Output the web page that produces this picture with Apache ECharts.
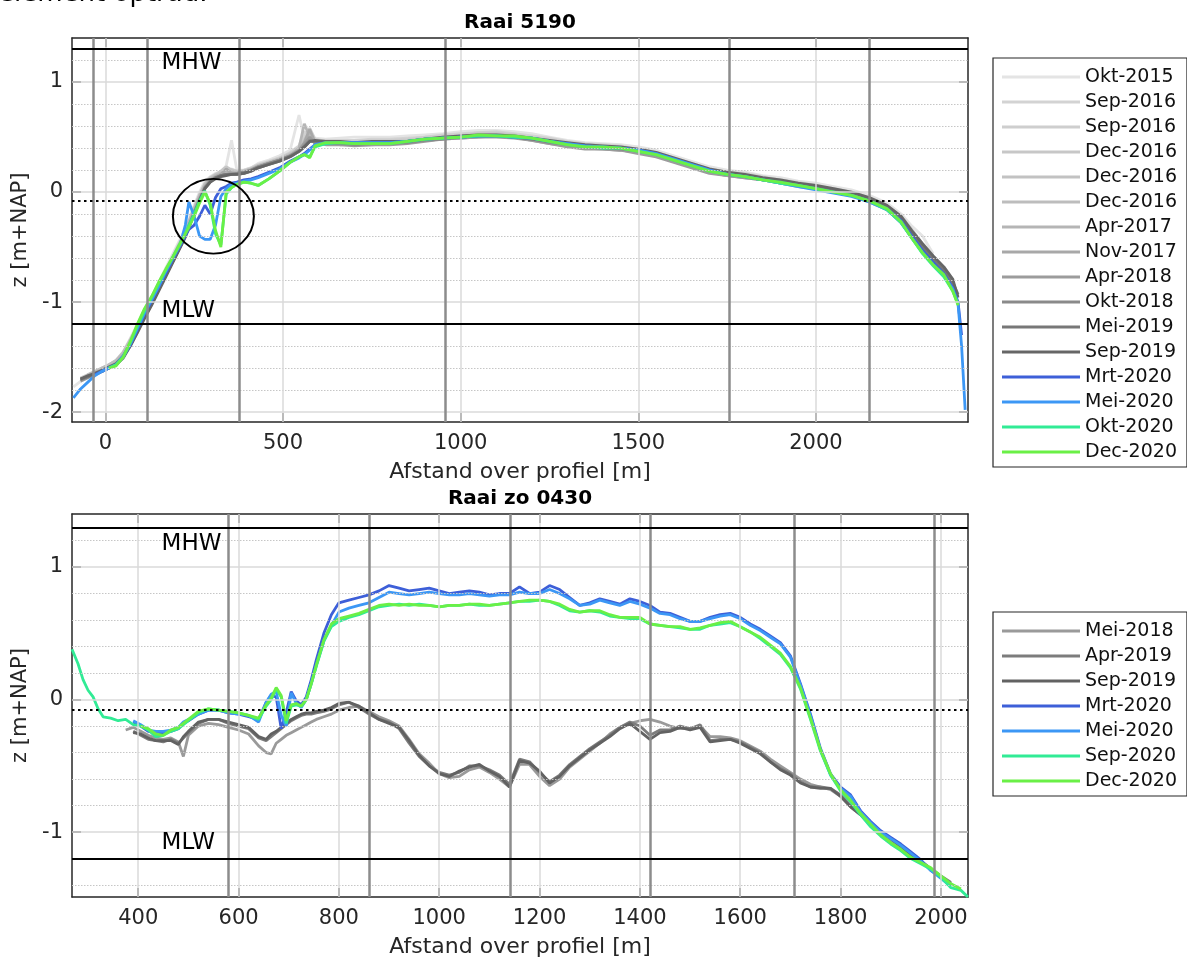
<!DOCTYPE html>
<html>
<head>
<meta charset="utf-8">
<title>Raai 5190 / Raai zo 0430</title>
<script src="https://cdn.jsdelivr.net/npm/echarts/dist/echarts.min.js"></script>
<style>
  html, body { margin: 0; padding: 0; background: #fff; }
  #chart { width: 1187px; height: 959px; }
</style>
</head>
<body>
<div id="chart"></div>
<script>
const FONT = "DejaVu Sans";
const INK = "#262626";

// ---- Raai 5190: meetpunten langs het profiel [m] ----
const afstandTop = [
  -90, -70, -50, -30, -10, 10, 30, 50, 70, 90,
  110, 130, 150, 170, 190, 210, 225, 235, 250, 265,
  280, 295, 310, 325, 340, 355, 370, 390, 410, 430,
  460, 490, 520, 545, 560, 575, 590, 620, 660, 700,
  750, 800, 850, 900, 950, 1000, 1050, 1100, 1150, 1200,
  1250, 1300, 1350, 1400, 1450, 1500, 1550, 1600, 1650, 1700,
  1750, 1800, 1850, 1900, 1950, 2000, 2050, 2100, 2150, 2200,
  2240, 2270, 2300, 2330, 2360, 2385, 2400, 2410, 2420
];

const okt2015 = [
  -1.77, -1.72, -1.68, -1.66, -1.62, -1.58, -1.53, -1.45, -1.33, -1.20,
  -1.07, -0.95, -0.82, -0.69, -0.56, -0.43, -0.33, -0.25, -0.12, 0.00,
  0.10, 0.14, 0.17, 0.18, 0.24, 0.47, 0.20, 0.20, 0.22, 0.26,
  0.29, 0.33, 0.38, 0.70, 0.48, 0.47, 0.49, 0.48, 0.49, 0.50,
  0.50, 0.50, 0.51, 0.52, 0.53, 0.55, 0.56, 0.56, 0.55, 0.53,
  0.50, 0.47, 0.45, 0.44, 0.43, 0.41, 0.38, 0.33, 0.28, 0.23,
  0.20, 0.18, 0.15, 0.13, 0.10, 0.08, 0.05, 0.02, -0.03, -0.10,
  -0.20, -0.31, -0.40, -0.56, null, null, null, null, null
];
const sep2016a = [
  null, -1.70, -1.67, -1.65, -1.62, -1.58, -1.55, -1.47, -1.35, -1.22,
  -1.09, -0.97, -0.84, -0.71, -0.58, -0.45, -0.35, -0.27, -0.14, -0.02,
  0.08, 0.13, 0.16, 0.17, 0.19, 0.21, 0.19, 0.20, 0.22, 0.25,
  0.28, 0.31, 0.36, 0.42, 0.55, 0.50, 0.47, 0.47, 0.47, 0.47,
  0.48, 0.48, 0.49, 0.50, 0.52, 0.53, 0.54, 0.55, 0.53, 0.51,
  0.49, 0.46, 0.44, 0.43, 0.42, 0.39, 0.36, 0.31, 0.26, 0.21,
  0.18, 0.17, 0.14, 0.11, 0.09, 0.06, 0.03, 0.00, -0.05, -0.12,
  -0.22, -0.34, -0.47, -0.58, -0.68, -0.80, null, null, null
];
const sep2016b = [
  null, -1.71, -1.67, -1.64, -1.61, -1.57, -1.54, -1.46, -1.35, -1.23,
  -1.10, -0.97, -0.85, -0.72, -0.59, -0.46, -0.36, -0.27, -0.15, -0.03,
  0.07, 0.12, 0.15, 0.16, 0.18, 0.19, 0.18, 0.19, 0.21, 0.24,
  0.27, 0.31, 0.35, 0.40, 0.50, 0.58, 0.48, 0.46, 0.46, 0.46,
  0.47, 0.47, 0.48, 0.50, 0.51, 0.52, 0.54, 0.54, 0.52, 0.50,
  0.48, 0.45, 0.43, 0.42, 0.41, 0.38, 0.35, 0.30, 0.25, 0.20,
  0.17, 0.16, 0.13, 0.11, 0.08, 0.05, 0.02, -0.01, -0.06, -0.13,
  -0.23, -0.36, -0.49, -0.60, -0.70, -0.82, null, null, null
];
const dec2016a = [
  null, -1.69, -1.66, -1.64, -1.60, -1.57, -1.53, -1.46, -1.34, -1.22,
  -1.09, -0.97, -0.84, -0.72, -0.59, -0.46, -0.36, -0.28, -0.15, -0.03,
  0.07, 0.13, 0.16, 0.19, 0.23, 0.20, 0.19, 0.19, 0.21, 0.24,
  0.27, 0.30, 0.35, 0.39, 0.45, 0.52, 0.47, 0.45, 0.45, 0.44,
  0.45, 0.46, 0.47, 0.49, 0.50, 0.51, 0.53, 0.53, 0.52, 0.49,
  0.47, 0.44, 0.42, 0.41, 0.40, 0.38, 0.35, 0.30, 0.25, 0.20,
  0.17, 0.15, 0.13, 0.10, 0.07, 0.05, 0.02, -0.01, -0.06, -0.13,
  -0.24, -0.37, -0.50, -0.62, -0.72, -0.84, null, null, null
];
const dec2016b = [
  null, null, -1.67, -1.64, -1.61, -1.58, -1.54, -1.47, -1.35, -1.23,
  -1.10, -0.98, -0.85, -0.72, -0.60, -0.47, -0.37, -0.28, -0.16, -0.04,
  0.06, 0.12, 0.15, 0.17, 0.20, 0.19, 0.18, 0.19, 0.20, 0.23,
  0.26, 0.30, 0.34, 0.39, 0.47, 0.55, 0.46, 0.45, 0.44, 0.44,
  0.45, 0.45, 0.46, 0.48, 0.49, 0.50, 0.52, 0.52, 0.51, 0.49,
  0.46, 0.43, 0.41, 0.40, 0.39, 0.37, 0.34, 0.29, 0.24, 0.19,
  0.16, 0.15, 0.12, 0.09, 0.07, 0.04, 0.01, -0.02, -0.07, -0.14,
  -0.25, -0.38, -0.51, -0.62, -0.72, -0.85, null, null, null
];
const dec2016c = [
  null, null, -1.66, -1.63, -1.60, -1.57, -1.53, -1.46, -1.35, -1.22,
  -1.09, -0.97, -0.84, -0.72, -0.59, -0.46, -0.36, -0.27, -0.15, -0.03,
  0.07, 0.12, 0.15, 0.17, 0.19, 0.18, 0.18, 0.19, 0.21, 0.24,
  0.27, 0.30, 0.34, 0.39, 0.44, 0.50, 0.46, 0.45, 0.45, 0.44,
  0.45, 0.45, 0.46, 0.48, 0.50, 0.51, 0.52, 0.52, 0.51, 0.49,
  0.46, 0.44, 0.41, 0.40, 0.40, 0.37, 0.34, 0.29, 0.24, 0.19,
  0.16, 0.14, 0.12, 0.09, 0.06, 0.04, 0.01, -0.02, -0.07, -0.15,
  -0.26, -0.39, -0.52, -0.63, -0.73, -0.86, null, null, null
];
const apr2017 = [
  null, null, -1.68, -1.65, -1.62, -1.59, -1.55, -1.48, -1.37, -1.24,
  -1.11, -0.99, -0.86, -0.73, -0.61, -0.48, -0.38, -0.29, -0.17, -0.05,
  0.05, 0.11, 0.14, 0.16, 0.18, 0.18, 0.17, 0.18, 0.20, 0.23,
  0.26, 0.29, 0.33, 0.40, 0.62, 0.50, 0.46, 0.44, 0.44, 0.43,
  0.44, 0.44, 0.45, 0.47, 0.49, 0.50, 0.51, 0.51, 0.50, 0.48,
  0.45, 0.42, 0.40, 0.40, 0.39, 0.36, 0.33, 0.28, 0.23, 0.18,
  0.15, 0.14, 0.11, 0.09, 0.06, 0.03, 0.00, -0.03, -0.08, -0.15,
  -0.26, -0.39, -0.51, -0.62, -0.72, -0.84, null, null, null
];
const nov2017 = [
  null, null, -1.67, -1.64, -1.62, -1.59, -1.56, -1.49, -1.38, -1.25,
  -1.12, -1.00, -0.87, -0.74, -0.62, -0.49, -0.39, -0.30, -0.18, -0.06,
  0.05, 0.11, 0.14, 0.16, 0.21, 0.17, 0.17, 0.18, 0.20, 0.23,
  0.26, 0.29, 0.33, 0.38, 0.45, 0.57, 0.45, 0.44, 0.43, 0.43,
  0.43, 0.44, 0.45, 0.47, 0.48, 0.49, 0.50, 0.51, 0.50, 0.47,
  0.44, 0.42, 0.40, 0.39, 0.38, 0.36, 0.33, 0.28, 0.23, 0.18,
  0.15, 0.13, 0.11, 0.08, 0.06, 0.03, 0.00, -0.03, -0.08, -0.16,
  -0.27, -0.40, -0.52, -0.63, -0.73, -0.85, null, null, null
];
const apr2018 = [
  null, -1.72, -1.69, -1.66, -1.63, -1.60, -1.56, -1.49, -1.38, -1.25,
  -1.12, -1.00, -0.87, -0.75, -0.62, -0.49, -0.39, -0.31, -0.18, -0.07,
  0.04, 0.10, 0.13, 0.15, 0.16, 0.17, 0.17, 0.18, 0.20, 0.23,
  0.26, 0.29, 0.33, 0.38, 0.44, 0.50, 0.44, 0.43, 0.43, 0.42,
  0.43, 0.43, 0.44, 0.46, 0.48, 0.49, 0.50, 0.50, 0.49, 0.47,
  0.44, 0.41, 0.39, 0.39, 0.38, 0.35, 0.32, 0.27, 0.22, 0.17,
  0.15, 0.13, 0.11, 0.08, 0.05, 0.03, 0.00, -0.03, -0.09, -0.16,
  -0.28, -0.41, -0.53, -0.64, -0.74, -0.86, null, null, null
];
const okt2018 = [
  null, -1.71, -1.68, -1.66, -1.63, -1.60, -1.57, -1.50, -1.39, -1.26,
  -1.13, -1.01, -0.88, -0.75, -0.63, -0.50, -0.40, -0.31, -0.19, -0.07,
  0.04, 0.10, 0.13, 0.15, 0.16, 0.16, 0.17, 0.18, 0.20, 0.23,
  0.26, 0.29, 0.33, 0.37, 0.42, 0.47, 0.45, 0.44, 0.44, 0.43,
  0.44, 0.44, 0.45, 0.47, 0.48, 0.50, 0.51, 0.51, 0.50, 0.48,
  0.45, 0.43, 0.41, 0.40, 0.39, 0.37, 0.34, 0.29, 0.24, 0.19,
  0.16, 0.14, 0.12, 0.09, 0.06, 0.04, 0.01, -0.02, -0.07, -0.15,
  -0.26, -0.39, -0.52, -0.63, -0.73, -0.85, -0.95, null, null
];
const mei2019 = [
  null, -1.70, -1.68, -1.65, -1.63, -1.60, -1.57, -1.51, -1.40, -1.27,
  -1.14, -1.02, -0.89, -0.76, -0.63, -0.50, -0.40, -0.32, -0.20, -0.08,
  0.03, 0.09, 0.13, 0.15, 0.16, 0.16, 0.16, 0.17, 0.19, 0.22,
  0.25, 0.28, 0.32, 0.37, 0.41, 0.46, 0.46, 0.45, 0.45, 0.44,
  0.45, 0.45, 0.46, 0.48, 0.49, 0.50, 0.51, 0.51, 0.50, 0.48,
  0.46, 0.44, 0.42, 0.41, 0.40, 0.38, 0.35, 0.30, 0.25, 0.20,
  0.17, 0.15, 0.12, 0.10, 0.07, 0.05, 0.02, -0.01, -0.06, -0.13,
  -0.24, -0.37, -0.50, -0.61, -0.71, -0.82, -0.93, null, null
];
const sep2019 = [
  null, -1.70, -1.67, -1.65, -1.62, -1.59, -1.56, -1.50, -1.40, -1.28,
  -1.15, -1.03, -0.90, -0.77, -0.64, -0.51, -0.41, -0.32, -0.20, -0.08,
  0.03, 0.09, 0.12, 0.14, 0.15, 0.16, 0.16, 0.17, 0.19, 0.22,
  0.25, 0.28, 0.32, 0.37, 0.41, 0.46, 0.47, 0.46, 0.46, 0.45,
  0.46, 0.46, 0.46, 0.48, 0.50, 0.51, 0.52, 0.52, 0.51, 0.49,
  0.47, 0.45, 0.43, 0.42, 0.41, 0.39, 0.36, 0.31, 0.26, 0.21,
  0.18, 0.16, 0.13, 0.11, 0.08, 0.06, 0.03, 0.00, -0.05, -0.12,
  -0.22, -0.35, -0.47, -0.58, -0.68, -0.79, -0.96, null, null
];
const mrt2020 = [
  null, null, null, -1.66, -1.63, -1.60, -1.57, -1.50, -1.39, -1.25,
  -1.11, -0.99, -0.86, -0.74, -0.61, -0.49, -0.40, -0.34, -0.30, -0.22,
  -0.12, -0.20, -0.05, 0.03, 0.05, 0.08, 0.09, 0.11, 0.12, 0.14,
  0.18, 0.22, 0.28, 0.32, 0.35, 0.39, 0.43, 0.45, 0.45, 0.45,
  0.45, 0.45, 0.46, 0.48, 0.49, 0.50, 0.51, 0.51, 0.50, 0.49,
  0.46, 0.44, 0.42, 0.41, 0.40, 0.38, 0.35, 0.30, 0.25, 0.20,
  0.16, 0.14, 0.11, 0.09, 0.06, 0.03, 0.00, -0.03, -0.08, -0.15,
  -0.26, -0.40, -0.53, -0.64, -0.74, -0.87, -1.00, -1.30, null
];
const mei2020 = [
  -1.87, -1.79, -1.73, -1.67, -1.63, -1.60, -1.57, -1.49, -1.38, -1.24,
  -1.10, -0.98, -0.86, -0.72, -0.60, -0.48, -0.30, -0.09, -0.22, -0.40,
  -0.43, -0.43, -0.30, -0.04, 0.03, 0.07, 0.08, 0.10, 0.11, 0.13,
  0.17, 0.21, 0.27, 0.31, 0.34, 0.38, 0.43, 0.45, 0.45, 0.45,
  0.45, 0.45, 0.46, 0.48, 0.49, 0.50, 0.51, 0.51, 0.50, 0.49,
  0.46, 0.44, 0.42, 0.41, 0.40, 0.38, 0.35, 0.30, 0.25, 0.20,
  0.16, 0.14, 0.11, 0.08, 0.05, 0.02, -0.01, -0.04, -0.09, -0.16,
  -0.28, -0.42, -0.55, -0.66, -0.76, -0.88, -1.02, -1.40, -1.98
];
const okt2020 = [
  null, null, null, null, null, -1.60, -1.57, -1.50, -1.37, -1.22,
  -1.08, -0.96, -0.83, -0.71, -0.59, -0.47, -0.38, -0.30, -0.20, -0.08,
  0.01, -0.12, -0.38, -0.48, -0.02, 0.04, 0.07, 0.09, 0.08, 0.06,
  0.12, 0.19, 0.27, 0.32, 0.34, 0.32, 0.41, 0.44, 0.45, 0.44,
  0.44, 0.44, 0.46, 0.48, 0.49, 0.50, 0.51, 0.51, 0.50, 0.49,
  0.46, 0.43, 0.41, 0.40, 0.40, 0.37, 0.34, 0.29, 0.24, 0.19,
  0.16, 0.14, 0.11, 0.08, 0.06, 0.03, 0.00, -0.03, -0.08, -0.16,
  -0.28, -0.42, -0.56, -0.67, -0.77, -0.90, -1.02, null, null
];
const dec2020 = [
  null, null, null, null, null, -1.60, -1.58, -1.50, -1.36, -1.20,
  -1.06, -0.95, -0.82, -0.70, -0.59, -0.47, -0.38, -0.32, -0.22, -0.10,
  0.00, -0.10, -0.35, -0.50, 0.00, 0.04, 0.07, 0.09, 0.08, 0.06,
  0.12, 0.19, 0.27, 0.32, 0.34, 0.31, 0.42, 0.45, 0.45, 0.44,
  0.44, 0.44, 0.46, 0.48, 0.49, 0.50, 0.52, 0.51, 0.51, 0.49,
  0.46, 0.43, 0.41, 0.41, 0.40, 0.37, 0.34, 0.29, 0.24, 0.19,
  0.16, 0.14, 0.11, 0.09, 0.06, 0.03, 0.00, -0.03, -0.08, -0.15,
  -0.27, -0.42, -0.55, -0.66, -0.75, -0.90, -1.03, null, null
];

const topNames = ["Okt-2015", "Sep-2016", "Sep-2016", "Dec-2016", "Dec-2016", "Dec-2016",
  "Apr-2017", "Nov-2017", "Apr-2018", "Okt-2018", "Mei-2019", "Sep-2019",
  "Mrt-2020", "Mei-2020", "Okt-2020", "Dec-2020"];
const topColors = ["#e4e4e4", "#d3d3d3", "#cecece", "#c7c7c7", "#c2c2c2", "#bdbdbd",
  "#b5b5b5", "#a8a8a8", "#9c9c9c", "#8a8a8a", "#777777", "#666666",
  "#3d5fd8", "#3c97f5", "#31eb95", "#6af046"];
const topProfiles = [okt2015, sep2016a, sep2016b, dec2016a, dec2016b, dec2016c,
  apr2017, nov2017, apr2018, okt2018, mei2019, sep2019,
  mrt2020, mei2020, okt2020, dec2020];

// ---- Raai zo 0430 ----
const afstandZo = [
  268, 280, 290, 300, 310, 320, 330, 345, 360, 375,
  390, 405, 420, 435, 450, 465, 480, 490, 500, 520,
  540, 560, 580, 600, 620, 640, 655, 665, 675, 685,
  695, 705, 715, 725, 735, 745, 755, 770, 785, 800,
  820, 840, 860, 880, 900, 920, 940, 960, 980, 1000,
  1020, 1040, 1060, 1080, 1100, 1120, 1140, 1160, 1180, 1200,
  1220, 1240, 1260, 1280, 1300, 1320, 1340, 1360, 1380, 1400,
  1420, 1440, 1460, 1480, 1500, 1520, 1540, 1560, 1580, 1600,
  1620, 1640, 1660, 1680, 1700, 1720, 1740, 1760, 1780, 1800,
  1820, 1840, 1860, 1880, 1900, 1920, 1940, 1960, 1980, 2000,
  2020, 2040, 2054
];

const zoMei2018 = [
  null, null, null, null, null, null, null, null, null, -0.23,
  -0.21, -0.24, -0.27, -0.29, -0.30, -0.29, -0.32, -0.43, -0.27, -0.20,
  -0.18, -0.19, -0.21, -0.23, -0.26, -0.35, -0.40, -0.41, -0.33, -0.30,
  -0.27, -0.25, -0.23, -0.21, -0.19, -0.17, -0.15, -0.13, -0.11, -0.08,
  -0.06, -0.05, -0.09, -0.13, -0.16, -0.20, -0.30, -0.41, -0.48, -0.56,
  -0.59, -0.58, -0.53, -0.51, -0.55, -0.60, -0.66, -0.49, -0.49, -0.58,
  -0.65, -0.60, -0.51, -0.45, -0.39, -0.33, -0.26, -0.21, -0.18, -0.16,
  -0.15, -0.17, -0.20, -0.22, -0.22, -0.20, -0.28, -0.28, -0.29, -0.31,
  -0.35, -0.39, -0.45, -0.50, -0.55, -0.60, -0.64, -0.66, -0.68, -0.73,
  -0.81, -0.87, -0.95, -1.01, -1.06, -1.11, -1.17, -1.22, -1.28, -1.33,
  null, null, null
];
const zoApr2019 = [
  null, null, null, null, null, null, null, null, null, null,
  -0.24, -0.27, -0.30, -0.31, -0.32, -0.30, -0.33, -0.29, -0.25, -0.18,
  -0.15, -0.15, -0.18, -0.20, -0.22, -0.29, -0.31, -0.28, -0.25, -0.22,
  -0.19, -0.16, -0.14, -0.12, -0.11, -0.11, -0.10, -0.09, -0.07, -0.04,
  -0.02, -0.06, -0.11, -0.15, -0.17, -0.22, -0.33, -0.43, -0.50, -0.55,
  -0.57, -0.55, -0.50, -0.50, -0.53, -0.57, -0.64, -0.45, -0.47, -0.55,
  -0.62, -0.57, -0.49, -0.43, -0.37, -0.32, -0.27, -0.21, -0.17, -0.20,
  -0.27, -0.23, -0.23, -0.20, -0.22, -0.19, -0.31, -0.30, -0.30, -0.32,
  -0.36, -0.40, -0.47, -0.52, -0.56, -0.62, -0.66, -0.66, -0.67, -0.72,
  -0.80, -0.86, -0.93, -1.00, -1.05, -1.10, -1.16, -1.22, -1.28, -1.33,
  -1.38, null, null
];
const zoSep2019 = [
  null, null, null, null, null, null, null, null, null, null,
  -0.25, -0.26, -0.29, -0.31, -0.31, -0.31, -0.34, -0.28, -0.24, -0.17,
  -0.15, -0.15, -0.17, -0.19, -0.21, -0.28, -0.30, -0.26, -0.24, -0.21,
  -0.18, -0.15, -0.13, -0.11, -0.10, -0.10, -0.09, -0.08, -0.06, -0.03,
  -0.02, -0.05, -0.10, -0.15, -0.18, -0.21, -0.31, -0.42, -0.50, -0.56,
  -0.58, -0.54, -0.51, -0.49, -0.54, -0.58, -0.66, -0.46, -0.48, -0.54,
  -0.63, -0.58, -0.50, -0.44, -0.38, -0.33, -0.28, -0.22, -0.18, -0.24,
  -0.30, -0.25, -0.24, -0.21, -0.23, -0.21, -0.32, -0.31, -0.30, -0.33,
  -0.37, -0.41, -0.47, -0.53, -0.57, -0.63, -0.66, -0.67, -0.67, -0.73,
  -0.81, -0.87, -0.94, -1.00, -1.05, -1.11, -1.17, -1.22, -1.28, -1.34,
  -1.39, null, null
];
const zoMrt2020 = [
  null, null, null, null, null, null, null, null, null, null,
  -0.17, -0.20, -0.24, -0.25, -0.25, -0.24, -0.22, -0.18, -0.16, -0.11,
  -0.08, -0.08, -0.10, -0.11, -0.13, -0.15, -0.02, 0.03, 0.02, -0.22,
  -0.10, 0.06, -0.01, -0.04, 0.02, 0.15, 0.30, 0.50, 0.64, 0.73,
  0.75, 0.77, 0.79, 0.82, 0.86, 0.84, 0.82, 0.83, 0.84, 0.82,
  0.80, 0.81, 0.82, 0.81, 0.79, 0.80, 0.80, 0.85, 0.80, 0.81,
  0.86, 0.83, 0.77, 0.71, 0.73, 0.76, 0.74, 0.72, 0.76, 0.74,
  0.71, 0.66, 0.65, 0.62, 0.59, 0.59, 0.62, 0.64, 0.65, 0.62,
  0.57, 0.53, 0.48, 0.43, 0.33, 0.12, -0.11, -0.37, -0.56, -0.66,
  -0.72, -0.84, -0.92, -0.99, -1.04, -1.09, -1.15, -1.21, -1.29, -1.34,
  -1.40, null, null
];
const zoMei2020 = [
  null, null, null, null, null, null, null, null, null, null,
  -0.16, -0.19, -0.23, -0.24, -0.24, -0.23, -0.21, -0.17, -0.15, -0.11,
  -0.08, -0.08, -0.10, -0.11, -0.12, -0.17, -0.02, 0.04, 0.06, -0.12,
  -0.20, 0.05, -0.03, -0.06, 0.00, 0.12, 0.26, 0.44, 0.56, 0.66,
  0.69, 0.71, 0.73, 0.77, 0.81, 0.80, 0.79, 0.80, 0.81, 0.80,
  0.79, 0.79, 0.80, 0.79, 0.78, 0.79, 0.79, 0.81, 0.80, 0.80,
  0.83, 0.80, 0.76, 0.71, 0.72, 0.75, 0.73, 0.71, 0.74, 0.72,
  0.69, 0.65, 0.64, 0.61, 0.59, 0.59, 0.61, 0.63, 0.64, 0.61,
  0.56, 0.52, 0.47, 0.42, 0.32, 0.11, -0.12, -0.38, -0.57, -0.67,
  -0.73, -0.85, -0.93, -1.00, -1.05, -1.10, -1.16, -1.22, -1.29, -1.35,
  -1.41, null, null
];
const zoSep2020 = [
  0.38, 0.27, 0.15, 0.07, 0.02, -0.07, -0.13, -0.14, -0.16, -0.15,
  -0.19, -0.20, -0.23, -0.28, -0.27, -0.24, -0.22, -0.19, -0.16, -0.10,
  -0.07, -0.08, -0.09, -0.10, -0.12, -0.15, -0.05, 0.00, 0.08, 0.02,
  -0.18, -0.05, -0.04, -0.05, 0.00, 0.12, 0.25, 0.44, 0.55, 0.59,
  0.62, 0.64, 0.67, 0.70, 0.71, 0.72, 0.71, 0.72, 0.71, 0.70,
  0.71, 0.71, 0.72, 0.71, 0.71, 0.72, 0.73, 0.74, 0.74, 0.75,
  0.74, 0.71, 0.67, 0.66, 0.67, 0.66, 0.63, 0.62, 0.61, 0.61,
  0.57, 0.56, 0.55, 0.54, 0.53, 0.53, 0.56, 0.57, 0.58, 0.55,
  0.51, 0.46, 0.40, 0.34, 0.24, 0.08, -0.15, -0.39, -0.57, -0.69,
  -0.77, -0.87, -0.96, -1.03, -1.09, -1.14, -1.20, -1.24, -1.28, -1.34,
  -1.42, -1.44, -1.49
];
const zoDec2020 = [
  null, null, null, null, null, null, null, null, null, null,
  null, -0.20, -0.22, -0.26, -0.27, -0.23, -0.21, -0.18, -0.15, -0.09,
  -0.07, -0.08, -0.09, -0.10, -0.12, -0.14, -0.04, 0.01, 0.09, 0.03,
  -0.16, -0.04, -0.03, -0.05, 0.00, 0.12, 0.26, 0.45, 0.57, 0.61,
  0.63, 0.65, 0.68, 0.71, 0.72, 0.71, 0.72, 0.71, 0.71, 0.70,
  0.71, 0.71, 0.72, 0.72, 0.71, 0.72, 0.73, 0.74, 0.75, 0.75,
  0.74, 0.72, 0.68, 0.66, 0.67, 0.67, 0.64, 0.62, 0.62, 0.62,
  0.57, 0.56, 0.55, 0.55, 0.53, 0.54, 0.56, 0.58, 0.59, 0.55,
  0.51, 0.47, 0.41, 0.35, 0.25, 0.09, -0.14, -0.38, -0.56, -0.68,
  -0.76, -0.86, -0.94, -1.02, -1.08, -1.13, -1.19, -1.23, -1.27, -1.33,
  -1.39, -1.43, null
];

const zoNames = ["Mei-2018", "Apr-2019", "Sep-2019", "Mrt-2020", "Mei-2020", "Sep-2020", "Dec-2020"];
const zoColors = ["#9a9a9a", "#7c7c7c", "#626262", "#3d5fd8", "#3c97f5", "#31eb95", "#6af046"];
const zoProfiles = [zoMei2018, zoApr2019, zoSep2019, zoMrt2020, zoMei2020, zoSep2020, zoDec2020];

// ---- axes, grid and reference levels ----
const ticksTopX = [0, 500, 1000, 1500, 2000];
const ticksTopY = [-2, -1, 0, 1];
const minorTopY = [-1.8, -1.6, -1.4, -1.2, -0.8, -0.6, -0.4, -0.2, 0.2, 0.4, 0.6, 0.8, 1.2];
const ticksZoX = [400, 600, 800, 1000, 1200, 1400, 1600, 1800, 2000];
const ticksZoY = [-1, 0, 1];
const minorZoY = [-1.4, -1.2, -0.8, -0.6, -0.4, -0.2, 0.2, 0.4, 0.6, 0.8, 1.2];
const sectionsTop = [-33, 119, 378, 957, 1757, 2150];
const sectionsZo = [579, 861, 1142, 1421, 1707, 1987];
const MHW = 1.3, MLW = -1.2, refLevel = -0.08;
const rangeTop = { x: [-94, 2428], y: [-2.09, 1.4] };
const rangeZo = { x: [268, 2054], y: [-1.49, 1.4] };
// omcirkeld gebied in raai 5190 (data-eenheden)
const ring = { x: 304, z: -0.22, rx: 114, rz: 0.34 };

function plain(v) { return String(v); }

function axisX(grid, pos, range, ticks, labelled) {
  return {
    type: "value", gridIndex: grid, position: pos, min: range[0], max: range[1],
    name: labelled ? "Afstand over profiel [m]" : "",
    nameLocation: "middle", nameGap: 39,
    nameTextStyle: { fontFamily: FONT, fontSize: 22, color: INK },
    axisLine: { show: true, onZero: false, lineStyle: { color: INK, width: 1.5 } },
    axisTick: { show: true, inside: true, length: 9, customValues: ticks, lineStyle: { color: INK, width: 1.5 } },
    axisLabel: { show: labelled, customValues: ticks, formatter: plain, margin: 11, fontFamily: FONT, fontSize: 21, color: INK },
    splitLine: { show: false }
  };
}
function axisY(grid, pos, range, ticks, labelled) {
  return {
    type: "value", gridIndex: grid, position: pos, min: range[0], max: range[1],
    name: labelled ? "z [m+NAP]" : "",
    nameLocation: "middle", nameGap: 34,
    nameTextStyle: { fontFamily: FONT, fontSize: 21, color: INK },
    axisLine: { show: true, onZero: false, lineStyle: { color: INK, width: 1.5 } },
    axisTick: { show: true, inside: true, length: 9, customValues: ticks, lineStyle: { color: INK, width: 1.5 } },
    axisLabel: { show: labelled, customValues: ticks, formatter: plain, margin: 9, fontFamily: FONT, fontSize: 21, color: INK },
    splitLine: { show: false }
  };
}

function profileSeries(names, colors, profiles, stations, axis, tag) {
  return profiles.map((vals, i) => ({
    type: "line",
    name: names[i] + "|" + tag + i,
    xAxisIndex: axis, yAxisIndex: axis,
    data: stations.map((x, k) => [x, vals[k]]).filter(p => p[1] !== null),
    symbol: "none", showSymbol: false, silent: true,
    lineStyle: { color: colors[i], width: 2.8 },
    itemStyle: { color: colors[i] },
    z: 3
  }));
}

function decorSeries(axis, majorX, majorY, minorY, sections) {
  const lines = [];
  minorY.forEach(v => lines.push({ yAxis: v, lineStyle: { color: "#c6c6c6", width: 1, type: [1.5, 1.5] } }));
  majorX.forEach(v => lines.push({ xAxis: v, lineStyle: { color: "#dadada", width: 1.5, type: "solid" } }));
  majorY.forEach(v => lines.push({ yAxis: v, lineStyle: { color: "#dadada", width: 1.5, type: "solid" } }));
  sections.forEach(v => lines.push({ xAxis: v, lineStyle: { color: "#8c8c8c", width: 2.5, type: "solid" } }));
  lines.push({ yAxis: MHW, lineStyle: { color: "#000", width: 2, type: "solid" } });
  lines.push({ yAxis: MLW, lineStyle: { color: "#000", width: 2, type: "solid" } });
  lines.push({ yAxis: refLevel, lineStyle: { color: "#000", width: 2, type: [2.5, 3.5] } });
  return {
    type: "line", name: "decor" + axis, data: [], xAxisIndex: axis, yAxisIndex: axis,
    silent: true, z: 1,
    markLine: { silent: true, symbol: ["none", "none"], label: { show: false }, animation: false, data: lines }
  };
}

const topSeries = profileSeries(topNames, topColors, topProfiles, afstandTop, 0, "t");
const zoSeries = profileSeries(zoNames, zoColors, zoProfiles, afstandZo, 2, "z");

function legendFor(series, top) {
  return {
    data: series.map(s => s.name),
    orient: "vertical", left: 993, top: top,
    padding: [9, 10, 5, 9], itemGap: 5,
    itemWidth: 78, itemHeight: 3, icon: "rect",
    borderColor: INK, borderWidth: 1.2, backgroundColor: "#fff",
    selectedMode: false,
    formatter: n => n.split("|")[0],
    itemStyle: { borderWidth: 0 },
    textStyle: { fontFamily: FONT, fontSize: 19, color: "#111", lineHeight: 20 }
  };
}

const option = {
  animation: false,
  backgroundColor: "#fff",
  textStyle: { fontFamily: FONT },
  grid: [
    { left: 72, top: 38, width: 896, height: 384 },
    { left: 72, top: 514, width: 896, height: 383 }
  ],
  xAxis: [
    axisX(0, "bottom", rangeTop.x, ticksTopX, true),
    axisX(0, "top", rangeTop.x, ticksTopX, false),
    axisX(1, "bottom", rangeZo.x, ticksZoX, true),
    axisX(1, "top", rangeZo.x, ticksZoX, false)
  ],
  yAxis: [
    axisY(0, "left", rangeTop.y, ticksTopY, true),
    axisY(0, "right", rangeTop.y, ticksTopY, false),
    axisY(1, "left", rangeZo.y, ticksZoY, true),
    axisY(1, "right", rangeZo.y, ticksZoY, false)
  ],
  legend: [legendFor(topSeries, 58), legendFor(zoSeries, 612)],
  series: [
    decorSeries(0, ticksTopX, ticksTopY, minorTopY, sectionsTop),
    decorSeries(2, ticksZoX, ticksZoY, minorZoY, sectionsZo),
    ...topSeries,
    ...zoSeries
  ]
};

const chart = echarts.init(document.getElementById("chart"), null, { renderer: "canvas" });
chart.setOption(option);

// annotations placed through the axes' own scales
function px(axis, x, y) {
  return chart.convertToPixel({ xAxisIndex: axis, yAxisIndex: axis }, [x, y]);
}
function txt(x, y, text, size, weight, align) {
  return {
    type: "text", x: x, y: y, z: 20, silent: true,
    style: {
      text: text, fontFamily: FONT, fontSize: size, fontWeight: weight || "normal",
      fill: "#000", align: align || "left", textAlign: align || "left",
      verticalAlign: "middle", textVerticalAlign: "middle"
    }
  };
}
const graphics = [];
[[0, rangeTop], [2, rangeZo]].forEach(([axis, r]) => {
  const lx = r.x[0] + 0.1 * (r.x[1] - r.x[0]);
  const hw = px(axis, lx, 1.17), lw = px(axis, lx, -1.08);
  graphics.push(txt(hw[0], hw[1], "MHW", 23));
  graphics.push(txt(lw[0], lw[1], "MLW", 23));
});
const topMid = px(0, (rangeTop.x[0] + rangeTop.x[1]) / 2, rangeTop.y[1]);
const zoMid = px(2, (rangeZo.x[0] + rangeZo.x[1]) / 2, rangeZo.y[1]);
graphics.push(txt(topMid[0], topMid[1] - 15, "Raai 5190", 20, "bold", "center"));
graphics.push(txt(zoMid[0], zoMid[1] - 15, "Raai zo 0430", 20, "bold", "center"));
graphics.push(txt(-2, -6, "element optrad.", 26));

const c = px(0, ring.x, ring.z), e = px(0, ring.x + ring.rx, ring.z - ring.rz);
const rx = e[0] - c[0], ry = e[1] - c[1];
graphics.push({
  type: "circle", x: c[0], y: c[1], scaleY: ry / rx, z: 20, silent: true,
  shape: { cx: 0, cy: 0, r: rx },
  style: { fill: "none", stroke: "#000", lineWidth: 2, strokeNoScale: true }
});
chart.setOption({ graphic: graphics });
</script>
</body>
</html>
